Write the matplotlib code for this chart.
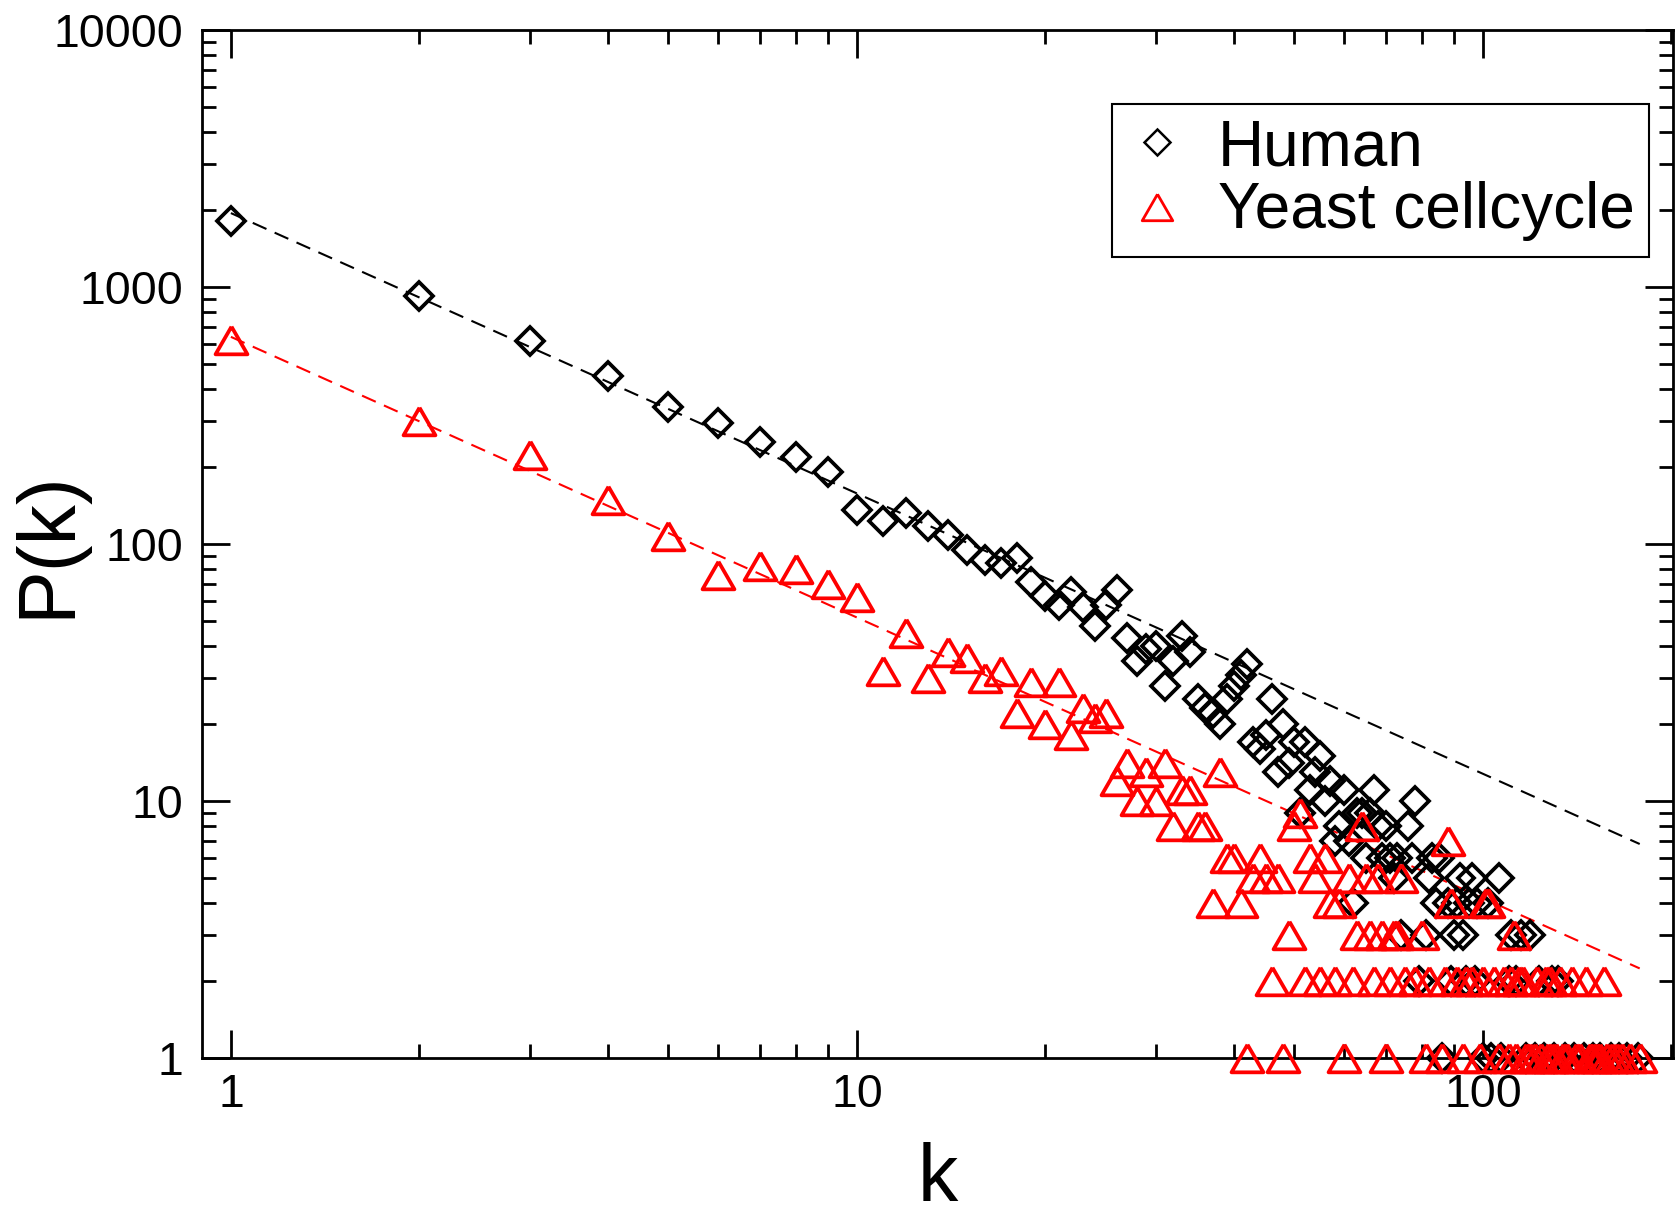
import matplotlib
matplotlib.use('Agg')
import matplotlib.pyplot as plt
from matplotlib.patches import Rectangle
from matplotlib.ticker import FixedLocator, NullFormatter
import numpy as np

plt.rcParams['font.family'] = ['Liberation Sans', 'DejaVu Sans']

# degree distribution, Human
human_k = [1, 2, 3, 4, 5, 6, 7, 8, 9, 10, 11, 12, 13, 14, 15, 16, 17, 18, 19, 20,
           21, 22, 23, 24, 25, 26, 27, 28, 29, 30, 31, 32, 33, 34, 35, 36, 37, 38, 39, 40,
           41, 42, 43, 44, 45, 46, 47, 48, 49, 50, 51, 52, 53, 54, 55, 56, 57, 58, 59, 60,
           61, 62, 63, 64, 65, 66, 67, 68, 69, 70, 71, 72, 73, 74, 76, 77, 78, 79, 81, 82,
           83, 84, 85, 86, 88, 89, 90, 91, 92, 93, 94, 95, 96, 97, 98, 100, 102, 103, 106, 107,
           110, 111, 113, 115, 117, 119, 121, 123, 125, 129, 130, 132, 135, 140, 145, 150, 154, 160, 165, 170,
           177]
human_p = [1800, 925, 618, 450, 341, 296, 250, 219, 190, 136, 123, 132, 117, 108, 95, 87, 84, 88, 71, 63,
           58, 65, 57, 48, 58, 66, 43, 35, 39, 40, 28, 35, 44, 38, 25, 23, 22, 20, 25, 28,
           31, 34, 17, 16, 18, 25, 13, 20, 14, 17, 9, 17, 11, 13, 15, 10, 12, 7, 8, 11,
           7, 4, 9, 9, 6, 9, 11, 8, 6, 8, 6, 5, 6, 3, 8, 6, 10, 2, 3, 5,
           6, 4, 6, 1, 4, 2, 3, 4, 5, 3, 2, 4, 5, 2, 4, 1, 4, 1, 5, 1,
           2, 3, 2, 3, 1, 3, 1, 2, 1, 2, 1, 2, 1, 1, 1, 1, 1, 1, 1, 1,
           1]

# degree distribution, yeast cell cycle
yeast_k = [1, 2, 3, 4, 5, 6, 7, 8, 9, 10, 11, 12, 13, 14, 15, 16, 17, 18, 19, 20,
           21, 22, 23, 24, 25, 26, 27, 28, 29, 30, 31, 32, 33, 34, 35, 36, 37, 38, 39, 40,
           41, 42, 43, 44, 45, 46, 47, 48, 49, 50, 51, 52, 53, 54, 55, 56, 57, 58, 59, 60,
           61, 62, 63, 64, 65, 66, 67, 68, 69, 70, 71, 72, 73, 74, 75, 78, 80, 81, 82, 86,
           87, 88, 89, 91, 93, 94, 96, 99, 100, 101, 102, 104, 106, 108, 110, 111, 112, 113, 114, 116,
           117, 119, 121, 122, 124, 126, 127, 128, 129, 131, 133, 134, 136, 139, 141, 143, 146, 148, 150, 152,
           154, 156, 158, 161, 164, 167, 172, 178]
yeast_p = [620, 300, 222, 148, 107, 76, 82, 80, 70, 62, 32, 45, 30, 38, 36, 30, 32, 22, 29, 20,
           29, 18, 23, 21, 22, 12, 14, 10, 13, 10, 14, 8, 11, 11, 8, 8, 4, 13, 6, 6,
           4, 1, 5, 6, 5, 2, 5, 1, 3, 8, 9, 2, 6, 5, 2, 6, 4, 2, 4, 1,
           5, 2, 3, 8, 5, 3, 2, 5, 3, 1, 2, 3, 3, 5, 2, 2, 3, 1, 2, 1,
           2, 7, 4, 2, 1, 2, 2, 1, 2, 4, 4, 2, 1, 2, 1, 2, 3, 1, 2, 2,
           1, 1, 1, 2, 1, 2, 1, 2, 1, 1, 2, 1, 1, 2, 1, 1, 2, 1, 1, 1,
           1, 2, 1, 1, 1, 1, 1, 1]

# power-law fits (end points)
fit_k = [1, 178]
human_fit = [1940, 6.8]
yeast_fit = [640, 2.23]

W, H = 1679, 1217
fig = plt.figure(figsize=(W / 100, H / 100), dpi=100)
ax = fig.add_axes([0.1206, 0.1307, 0.8756, 0.8446])

dash = (7.2, 4.3)
ax.plot(fit_k, human_fit, color='black', lw=1.5, dashes=dash, zorder=2)
ax.plot(fit_k, yeast_fit, color='red', lw=1.5, dashes=dash, zorder=2)

tri = np.array([[0, 0.866], [-1, -0.866], [1, -0.866], [0, 0.866]])

ax.plot(human_k, human_p, ls='none', marker='D', ms=14.5, mfc='none',
        mec='black', mew=2.7, zorder=3, clip_on=False)
ax.plot(yeast_k, yeast_p, ls='none', marker=tri, ms=23, mfc='none',
        mec='red', mew=2.7, zorder=4, clip_on=False)

ax.set_xscale('log')
ax.set_yscale('log')
ax.set_xlim(0.9008, 200.9)
ax.set_ylim(1, 10000)

ax.xaxis.set_major_locator(FixedLocator([1, 10, 100]))
ax.set_xticklabels(['1', '10', '100'])
ax.xaxis.set_minor_locator(FixedLocator([m * d for d in (1, 10, 100) for m in range(2, 10)]))
ax.yaxis.set_major_locator(FixedLocator([1, 10, 100, 1000, 10000]))
ax.set_yticklabels(['1', '10', '100', '1000', '10000'])
ax.yaxis.set_minor_locator(FixedLocator([m * d for d in (1, 10, 100, 1000) for m in range(2, 10)]))
ax.xaxis.set_minor_formatter(NullFormatter())
ax.yaxis.set_minor_formatter(NullFormatter())

ax.tick_params(which='both', direction='in', top=True, right=True, width=2)
ax.tick_params(which='major', length=20, labelsize=33.5)
ax.tick_params(axis='y', which='major', pad=13.5)
ax.tick_params(axis='x', which='major', pad=11)
ax.tick_params(which='minor', length=10)
for s in ax.spines.values():
    s.set_linewidth(2)

ax.set_xlabel('k', fontsize=58)
ax.set_ylabel('P(k)', fontsize=58)
ax.xaxis.set_label_coords(0.5, -0.082)
ax.yaxis.set_label_coords(-0.079, 0.5)


# legend drawn by hand in figure pixels
def fx(px):
    return px / W


def fy(py):
    return 1 - py / H


fig.patches.append(Rectangle((fx(1112), fy(256.5)), fx(1649) - fx(1112), fy(103.5) - fy(256.5),
                             transform=fig.transFigure, fill=False, lw=1.5, edgecolor='black'))
fig.add_artist(plt.Line2D([fx(1157)], [fy(141.7)], transform=fig.transFigure, ls='none',
                          marker='D', ms=13, mfc='none', mec='black', mew=1.8))
fig.add_artist(plt.Line2D([fx(1157)], [fy(206.7)], transform=fig.transFigure, ls='none',
                          marker=tri, ms=22, mfc='none', mec='red', mew=2))
fig.text(fx(1218), fy(165.7), 'Human', fontsize=46, va='baseline', ha='left')
fig.text(fx(1218), fy(228), 'Yeast cellcycle', fontsize=46, va='baseline', ha='left')

fig.savefig('out.png', dpi=100)
